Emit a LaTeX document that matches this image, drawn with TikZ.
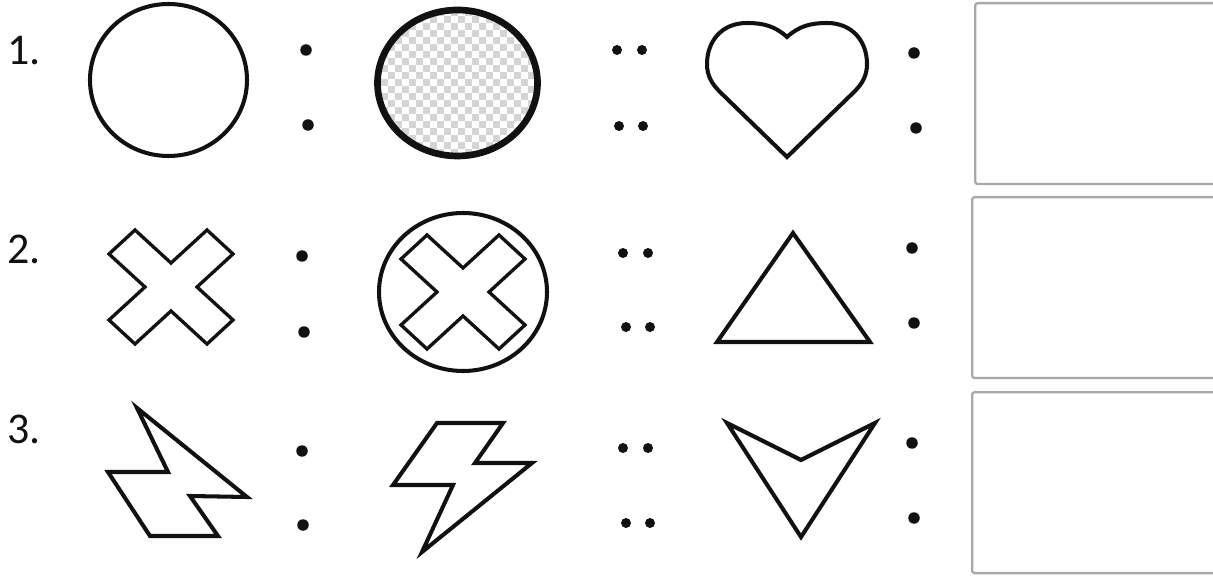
\documentclass[tikz,border=0pt]{standalone}
\usepackage{fontspec}
\setmainfont{Carlito}
\usetikzlibrary{positioning}
\definecolor{tinta}{HTML}{111111}
\definecolor{borde}{HTML}{A8A8A8}
\definecolor{cuadro}{HTML}{D4D4D4}
\tikzset{
  figura/.style={draw=tinta,line width=2.3pt,line join=miter},
  fina/.style={figura,line width=1.9pt},
  gruesa/.style={figura,line width=3.8pt},
  num/.style={font=\fontsize{25}{29}\selectfont,text=tinta,inner sep=0pt},
  punto/.style={circle,fill=tinta,inner sep=0pt,minimum size=0.23cm},
  puntito/.style={punto,minimum size=0.2cm},
  respuesta/.style={draw=borde,line width=1.3pt,rounded corners=1.5pt,anchor=north west,
    minimum width=5.4cm,minimum height=3.62cm},
}
\newcommand\figcruz[1]{%
  \draw[fina,shift={(#1)}] (-62,33) -- (-36,57) -- (0,24) -- (36,57) -- (62,33) -- (26,0)
    -- (62,-33) -- (36,-57) -- (0,-24) -- (-36,-57) -- (-62,-33) -- (-26,0) -- cycle;}

\begin{document}
\begin{tikzpicture}[x=0.02cm,y=0.02cm]
  \useasboundingbox (0,0) rectangle (1213,575);
  \clip (0,0) rectangle (1213,575);
  % numeros
  \node[num] (n1) at (24,524) {1.};
  \node[num] (n2) at (24,326) {2.};
  \node[num] (n3) at (24,146) {3.};
  % fila 1
  \coordinate (a1) at (168.5,495);
  \coordinate (a2) at (457.5,492);
  \coordinate (a3) at (787,418);
  \draw[figura] (a1) ellipse [x radius=78.5,y radius=76];
  \begin{scope}[shift={(a2)}]
    \clip (0,0) ellipse [x radius=80,y radius=73];
    \foreach \i in {0,2,...,24}
      \foreach \j in {0,2,...,22} {
        \fill[cuadro] (-84+\i*7,-80+\j*7) rectangle ++(7,7);
        \fill[cuadro] (-77+\i*7,-73+\j*7) rectangle ++(7,7);
      }
  \end{scope}
  \draw[gruesa] (a2) ellipse [x radius=80,y radius=73];
  \draw[figura,shift={(a3)}] (0,120) .. controls (-12,131) and (-24,134) .. (-40,134)
    .. controls (-66,134) and (-80,115) .. (-80,93) .. controls (-80,81) and (-75,73) .. (-67,65)
    -- (0,0) -- (67,65) .. controls (75,73) and (80,81) .. (80,93)
    .. controls (80,115) and (66,134) .. (40,134) .. controls (24,134) and (12,131) .. (0,120) -- cycle;
  \node[punto] (p1a) at (306,525) {};
  \node[punto] (p1b) at (308,450) {};
  \node[puntito] (q1a) at (617,525) {};
  \node[puntito] (q1b) at (642,525) {};
  \node[puntito] (q1c) at (619,449) {};
  \node[puntito] (q1d) at (643,449) {};
  \node[punto] (s1a) at (914,522) {};
  \node[punto] (s1b) at (916,447) {};
  % fila 2
  \coordinate (b1) at (171,288);
  \coordinate (b2) at (463,283);
  \figcruz{b1}
  \draw[figura] (b2) ellipse [x radius=84,y radius=79];
  \figcruz{b2}
  \draw[figura] (793,342) -- (717,233) -- (870,233) -- cycle;
  \node[punto] (p2a) at (302,319) {};
  \node[punto] (p2b) at (304,243) {};
  \node[puntito] (q2a) at (623,322) {};
  \node[puntito] (q2b) at (648,322) {};
  \node[puntito] (q2c) at (626,248) {};
  \node[puntito] (q2d) at (650,248) {};
  \node[punto] (s2a) at (912,327) {};
  \node[punto] (s2b) at (914,252) {};
  % fila 3
  \draw[figura] (137,167) -- (247,78) -- (190,79) -- (218,39) -- (150,39) -- (108,103)
    -- (168,103) -- cycle;
  \draw[figura] (437,152) -- (503,152) -- (475,112) -- (532,112) -- (422,23) -- (453,90)
    -- (393,90) -- cycle;
  \draw[figura] (727,152) -- (801,115) -- (875,152) -- (801,38) -- cycle;
  \node[punto] (p3a) at (302,124) {};
  \node[punto] (p3b) at (303,50) {};
  \node[puntito] (q3a) at (623,127) {};
  \node[puntito] (q3b) at (648,127) {};
  \node[puntito] (q3c) at (626,52) {};
  \node[puntito] (q3d) at (650,52) {};
  \node[punto] (s3a) at (912,132) {};
  \node[punto] (s3b) at (914,57) {};
  % recuadros
  \node[respuesta] (r1) at (974,573) {};
  \node[respuesta] (r2) at (971,379) {};
  \node[respuesta] (r3) at (971,184) {};
\end{tikzpicture}
\end{document}
